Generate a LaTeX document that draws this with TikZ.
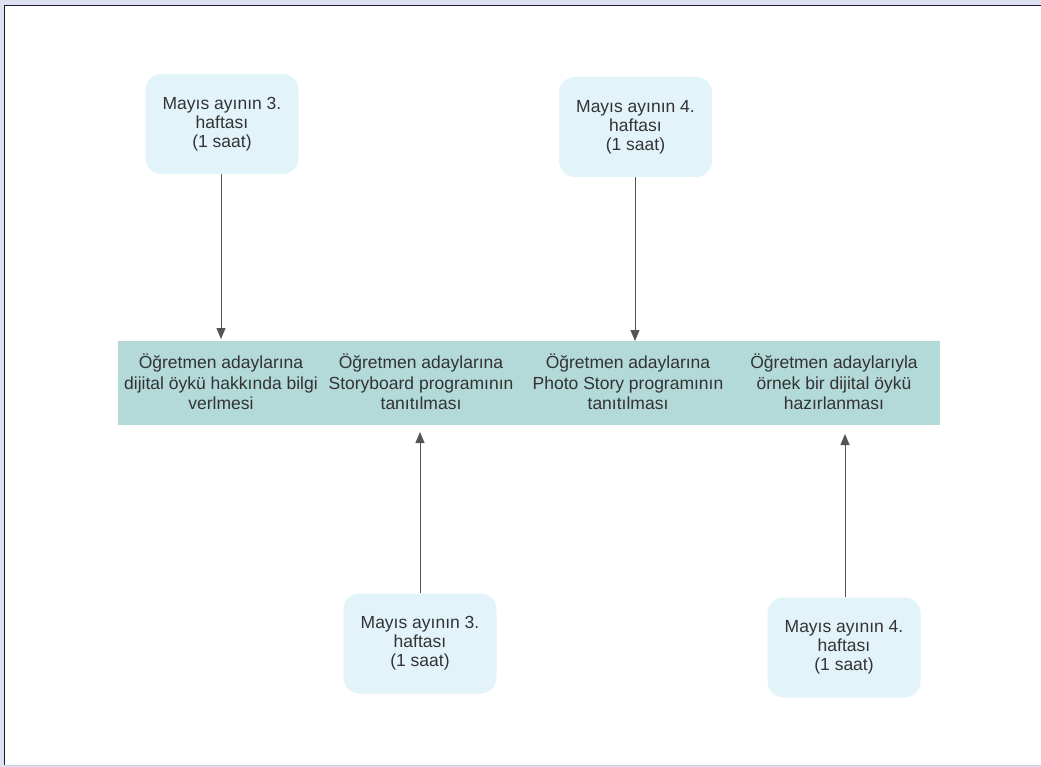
\documentclass[tikz,border=0pt]{standalone}
\usepackage{fontspec}
\setmainfont{Liberation Sans}
\usetikzlibrary{arrows.meta}
\definecolor{bgl}{HTML}{DDE1F1}
\definecolor{frame}{HTML}{1A1A2A}
\definecolor{boxfill}{HTML}{E2F3FA}
\definecolor{mainfill}{HTML}{B3D9D8}
\definecolor{txt}{HTML}{333333}
\definecolor{arr}{HTML}{555555}
\begin{document}
\begin{tikzpicture}[x=1pt,y=-1pt,
  timebox/.style={draw=none,fill=boxfill,rounded corners=16pt,minimum width=153pt,minimum height=100pt,inner sep=0pt,
    text=txt,align=center,font=\fontsize{17.5}{19}\selectfont},
  coltext/.style={text=txt,align=center,font=\fontsize{17.5}{20.5}\selectfont,inner sep=0pt},
  conn/.style={draw=arr,line width=1pt,-{Triangle[length=11pt,width=9pt]}}]
\useasboundingbox (0,0) rectangle (1041,767);
\fill[bgl] (0,0) rectangle (1041,767);
\fill[white] (4,5) rectangle (1041,765);
\draw[frame,line width=1.3pt] (4.5,765) -- (4.5,5.5) -- (1041,5.5);
\draw[color=bgl!80!gray,line width=0.8pt] (4.5,765) -- (1041,765);

\node[fill=mainfill,minimum width=822pt,minimum height=84pt,inner sep=0pt] (main) at (529,383) {};
\node[coltext] (t1) at (221,382) {Öğretmen adaylarına\\dijital öykü hakkında bilgi\\verlmesi};
\node[coltext] (t2) at (421,382) {Öğretmen adaylarına\\Storyboard programının\\tanıtılması};
\node[coltext] (t3) at (628,382) {Öğretmen adaylarına\\Photo Story programının\\tanıtılması};
\node[coltext] (t4) at (834,382) {Öğretmen adaylarıyla\\örnek bir dijital öykü\\hazırlanması};

\node[timebox] (b1) at (222,124) {Mayıs ayının 3.\\haftası\\(1 saat)};
\node[timebox] (b2) at (635.5,127) {Mayıs ayının 4.\\haftası\\(1 saat)};
\node[timebox] (b3) at (420,643.5) {Mayıs ayının 3.\\haftası\\(1 saat)};
\node[timebox] (b4) at (844,647.5) {Mayıs ayının 4.\\haftası\\(1 saat)};

\coordinate (e1) at (221,339);
\coordinate (e2) at (635,341);
\coordinate (e3) at (420,432);
\coordinate (e4) at (845,434);

\draw[conn] (b1.south -| e1) -- (e1);
\draw[conn] (b2.south -| e2) -- (e2);
\draw[conn] (b3.north -| e3) -- (e3);
\draw[conn] (b4.north -| e4) -- (e4);
\end{tikzpicture}
\end{document}
